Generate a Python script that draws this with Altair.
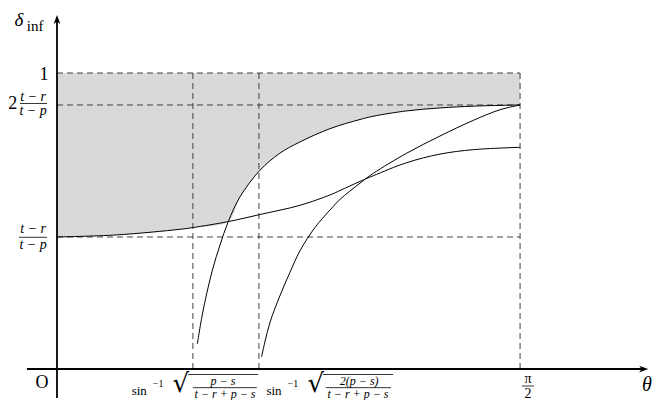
import altair as alt
import pandas as pd
import math

HALF_PI = math.pi / 2

# ---- curves (theta, delta_inf) ----
a_theta = [0.0, 0.202, 0.417, 0.462, 0.581, 0.689, 0.824, 0.926, 0.960, 1.028, 1.073, 1.186, 1.299, 1.412, 1.571]
a_delta = [0.446, 0.453, 0.472, 0.478, 0.498, 0.522, 0.553, 0.588, 0.603, 0.634, 0.653, 0.697, 0.726, 0.741, 0.749]

b_theta = [0.476, 0.492, 0.509, 0.529, 0.553, 0.581, 0.621, 0.689, 0.756, 0.824, 0.926, 1.028, 1.073, 1.186, 1.299, 1.412, 1.571]
b_delta = [0.085, 0.179, 0.260, 0.341, 0.419, 0.498, 0.582, 0.672, 0.729, 0.767, 0.812, 0.843, 0.854, 0.872, 0.882, 0.888, 0.892]

c_theta = [0.694, 0.706, 0.723, 0.756, 0.790, 0.824, 0.875, 0.926, 0.960, 1.028, 1.073, 1.186, 1.299, 1.412, 1.503, 1.571]
c_delta = [0.041, 0.095, 0.159, 0.247, 0.326, 0.399, 0.478, 0.537, 0.573, 0.628, 0.661, 0.729, 0.787, 0.840, 0.876, 0.892]

# reference levels
level_one = 1.0
level_two_ratio = 0.892   # 2 (t-r)/(t-p)
level_ratio = 0.446       # (t-r)/(t-p)
theta_1 = 0.461           # asin sqrt((p-s)/(t-r+p-s))
theta_2 = 0.685           # asin sqrt(2(p-s)/(t-r+p-s))
cross_theta = 0.581       # where curves A and B meet

# ---- tables ----
curves = pd.concat([
    pd.DataFrame({"curve": "A", "theta": a_theta, "delta": a_delta}),
    pd.DataFrame({"curve": "B", "theta": b_theta, "delta": b_delta}),
    pd.DataFrame({"curve": "C", "theta": c_theta, "delta": c_delta}),
], ignore_index=True)
curves["order"] = range(len(curves))

low_t = [t for t in a_theta if t <= cross_theta] + [t for t in b_theta if t > cross_theta]
low_d = [d for t, d in zip(a_theta, a_delta) if t <= cross_theta] + [d for t, d in zip(b_theta, b_delta) if t > cross_theta]
shade = pd.DataFrame({"theta": low_t, "delta": low_d, "top": level_one})

hlines = pd.DataFrame({"delta": [level_one, level_two_ratio, level_ratio], "t0": 0.0, "t1": HALF_PI})
vlines = pd.DataFrame({"theta": [theta_1, theta_2, HALF_PI], "d0": 0.0, "d1": level_one})

# axis frame
xaxis = pd.DataFrame({"t0": [-0.102], "t1": [1.99], "delta": [0.0]})
yaxis = pd.DataFrame({"theta": [0.0], "d0": [-0.098], "d1": [1.185]})
arrow_right = pd.DataFrame({"theta": [1.99], "delta": [0.0]})
arrow_up = pd.DataFrame({"theta": [0.0], "delta": [1.181]})

# text annotations
labels_upright = pd.DataFrame([
    {"text": "1", "theta": -0.044, "delta": 0.993, "size": 18},
    {"text": "2", "theta": -0.150, "delta": 0.895, "size": 18},
    {"text": "inf", "theta": -0.074, "delta": 1.160, "size": 15},
    {"text": "O", "theta": -0.051, "delta": -0.047, "size": 18},
    {"text": "\u03c0", "theta": 1.598, "delta": -0.034, "size": 14},
    {"text": "2", "theta": 1.598, "delta": -0.083, "size": 14},
    {"text": "sin", "theta": 0.279, "delta": -0.074, "size": 13},
    {"text": "\u22121", "theta": 0.343, "delta": -0.051, "size": 10},
    {"text": "sin", "theta": 0.736, "delta": -0.074, "size": 13},
    {"text": "\u22121", "theta": 0.800, "delta": -0.051, "size": 10},
])
labels_italic = pd.DataFrame([
    {"text": "\u03b4", "theta": -0.129, "delta": 1.180, "size": 19},
    {"text": "\u03b8", "theta": 2.001, "delta": -0.054, "size": 20},
    {"text": "t \u2212 r", "theta": -0.081, "delta": 0.918, "size": 14},
    {"text": "t \u2212 p", "theta": -0.081, "delta": 0.872, "size": 14},
    {"text": "t \u2212 r", "theta": -0.081, "delta": 0.472, "size": 14},
    {"text": "t \u2212 p", "theta": -0.081, "delta": 0.418, "size": 14},
    {"text": "p \u2212 s", "theta": 0.563, "delta": -0.041, "size": 12},
    {"text": "t \u2212 r + p \u2212 s", "theta": 0.570, "delta": -0.085, "size": 12},
    {"text": "2(p \u2212 s)", "theta": 1.025, "delta": -0.041, "size": 12},
    {"text": "t \u2212 r + p \u2212 s", "theta": 1.021, "delta": -0.085, "size": 12},
])
radicals = pd.DataFrame([
    {"text": "\u221a", "theta": 0.420, "delta": -0.0507, "size": 26},
    {"text": "\u221a", "theta": 0.878, "delta": -0.0507, "size": 26},
])
bars = pd.DataFrame([
    {"t0": -0.1255, "t1": -0.0339, "delta": 0.897},
    {"t0": -0.129, "t1": -0.034, "delta": 0.445},
    {"t0": 1.577, "t1": 1.618, "delta": -0.0574},
    {"t0": 0.461, "t1": 0.678, "delta": -0.063},
    {"t0": 0.912, "t1": 1.133, "delta": -0.063},
    {"t0": 0.445, "t1": 0.682, "delta": -0.0186},
    {"t0": 0.903, "t1": 1.140, "delta": -0.0186},
])

# ---- scales ----
xs = alt.Scale(domain=[-0.1662, 2.0319], nice=False, zero=False)
ys = alt.Scale(domain=[-0.1047, 1.2196], nice=False, zero=False)
FONT = "Liberation Serif"
X = lambda f: alt.X(f, scale=xs, axis=None)
Y = lambda f: alt.Y(f, scale=ys, axis=None)

area = alt.Chart(shade).mark_area(color="#d9d9d9", interpolate="catmull-rom").encode(
    x=X("theta:Q"), y=Y("delta:Q"), y2="top:Q",
)

hdash = alt.Chart(hlines).mark_rule(color="#2e2e2e", strokeWidth=0.9, strokeDash=[6, 4]).encode(
    x=X("t0:Q"), x2="t1:Q", y=Y("delta:Q")
)
vdash = alt.Chart(vlines).mark_rule(color="#2e2e2e", strokeWidth=0.9, strokeDash=[6, 4]).encode(
    x=X("theta:Q"), y=Y("d0:Q"), y2="d1:Q"
)

lines = alt.Chart(curves).mark_line(color="black", strokeWidth=1.0, interpolate="catmull-rom").encode(
    x=X("theta:Q"), y=Y("delta:Q"), detail="curve:N", order="order:Q",
)

xax = alt.Chart(xaxis).mark_rule(color="black", strokeWidth=1.8).encode(
    x=X("t0:Q"), x2="t1:Q", y=Y("delta:Q")
)
yax = alt.Chart(yaxis).mark_rule(color="black", strokeWidth=1.8).encode(
    x=X("theta:Q"), y=Y("d0:Q"), y2="d1:Q"
)
arr_r = alt.Chart(arrow_right).mark_point(
    shape="M 1 0 L -1 -0.75 L -0.45 0 L -1 0.75 Z", filled=True, color="black", size=81, opacity=1
).encode(x=X("theta:Q"), y=Y("delta:Q"))
arr_u = alt.Chart(arrow_up).mark_point(
    shape="M 0 -1 L -0.75 1 L 0 0.45 L 0.75 1 Z", filled=True, color="black", size=81, opacity=1
).encode(x=X("theta:Q"), y=Y("delta:Q"))

txt = alt.Chart(labels_upright).mark_text(font=FONT, color="black", baseline="middle", align="center").encode(
    x=X("theta:Q"), y=Y("delta:Q"), text="text:N",
    size=alt.Size("size:Q", scale=None, legend=None),
)
txt_it = alt.Chart(labels_italic).mark_text(font=FONT, fontStyle="italic", color="black", baseline="middle", align="center").encode(
    x=X("theta:Q"), y=Y("delta:Q"), text="text:N",
    size=alt.Size("size:Q", scale=None, legend=None),
)
rad = alt.Chart(radicals).mark_text(font="DejaVu Serif", color="black", baseline="middle", align="center").encode(
    x=X("theta:Q"), y=Y("delta:Q"), text="text:N",
    size=alt.Size("size:Q", scale=None, legend=None),
)
bar = alt.Chart(bars).mark_rule(color="black", strokeWidth=0.8).encode(
    x=X("t0:Q"), x2="t1:Q", y=Y("delta:Q")
)

chart = alt.layer(area, hdash, vdash, lines, xax, yax, arr_r, arr_u, txt, txt_it, rad, bar).properties(
    width=648, height=392, padding=0, autosize=alt.AutoSizeParams(type="none")
).configure_view(stroke=None)

chart.save("out.html", embed_options={"renderer": "svg", "actions": False})
